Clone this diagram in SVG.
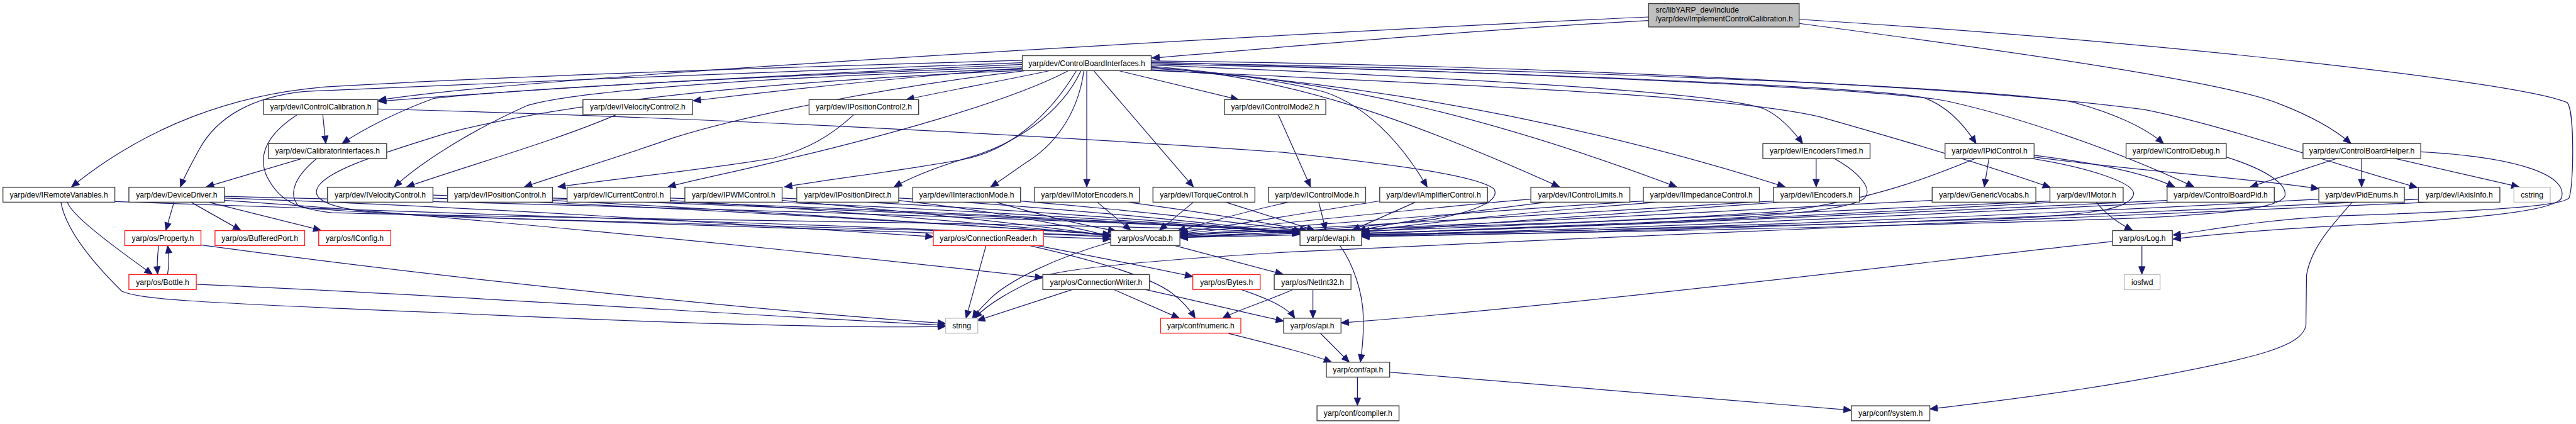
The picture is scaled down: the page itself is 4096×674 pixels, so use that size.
<svg xmlns="http://www.w3.org/2000/svg" width="4096" height="674" viewBox="0 0 4096 674">
<style>
.n rect{fill:#fff;stroke:#404040;stroke-width:1.5}
.r rect{stroke:#ff2020}
.g rect{stroke:#bfbfbf}
.t rect{fill:#bfbfbf}
text{font-family:"Liberation Sans",Arial,Helvetica,sans-serif;font-size:13.1px;text-anchor:middle;fill:#000}
.t text{text-anchor:start}
#edges path{fill:none;stroke:#191970;stroke-width:1.3;marker-end:url(#a)}
</style>
<defs>
<marker id="a" markerUnits="userSpaceOnUse" markerWidth="14" markerHeight="12" refX="13" refY="5.5" orient="auto" overflow="visible">
<path d="M0,0 L13,5.5 L0,11 z" fill="#191970" stroke="#191970" stroke-width="1"/>
</marker>
</defs>
<rect width="4096" height="674" fill="#fff"/>
<g transform="scale(0.93155)">
<g id="edges">
<path d="M2814,35 C2500,52 2200,80 1966,99"/>
<path d="M2814,29 C2300,52 1500,98 1100,128 C900,143 750,155 646,171"/>
<path d="M3071,40 C3450,90 3800,140 3890,177 C3950,200 3990,225 4013,245"/>
<path d="M3071,33 C3700,72 4300,140 4382,175 C4395,190 4393,320 4385,338 C4370,352 4250,360 4000,368 C3850,375 3760,395 3709,401"/>
<path d="M1745,103 C1400,113 900,128 560,148 C400,160 250,215 122,319"/>
<path d="M1745,107 C1400,120 900,138 520,156 C430,165 370,200 340,255 C325,283 315,300 308,319"/>
<path d="M1745,110 C1400,125 1000,145 646,173"/>
<path d="M1745,114 C1300,130 900,150 740,168 C680,190 620,220 584,245"/>
<path d="M1745,116 C1500,135 1300,158 1183,172"/>
<path d="M1745,118 C1400,128 1000,150 900,180 C810,220 720,275 673,319"/>
<path d="M1746,120 C1400,135 1000,165 760,228 C650,262 540,295 540,328 C542,360 650,366 800,371 C1300,385 1700,396 1896,402"/>
<path d="M1748,121 C1500,150 1260,200 1150,235 C1050,270 950,300 895,319"/>
<path d="M1790,121 C1700,140 1600,158 1547,170"/>
<path d="M1823,121 C1720,175 1500,235 1320,277 C1250,294 1180,308 1140,319"/>
<path d="M1837,121 C1790,200 1720,258 1644,272 C1550,290 1420,305 1339,319"/>
<path d="M1845,121 C1810,195 1730,248 1649,270 C1600,285 1560,300 1526,319"/>
<path d="M1850,121 C1842,180 1812,240 1752,277 C1730,292 1710,307 1691,319"/>
<path d="M1855,121 L1855,319"/>
<path d="M1867,121 L2037,319"/>
<path d="M1911,121 L2114,170"/>
<path d="M1965,113 C2100,125 2200,140 2261,157 C2330,180 2390,240 2436,319"/>
<path d="M1965,115 C2200,128 2420,210 2662,319"/>
<path d="M1965,117 C2300,132 2600,220 2862,319"/>
<path d="M1965,119 C2400,142 2800,240 3047,319"/>
<path d="M1965,111 C2500,133 2950,158 3014,187 C3040,200 3060,222 3077,245"/>
<path d="M1965,109 C2500,120 3200,148 3285,167 C3325,182 3352,212 3373,245"/>
<path d="M1965,107 C2600,118 3300,143 3533,173 C3600,190 3660,216 3693,245"/>
<path d="M1965,120 C2500,145 2950,162 3109,200 C3250,240 3400,285 3500,320"/>
<path d="M1965,104 C2700,112 3400,152 3660,187 C3800,215 3950,270 4126,320"/>
<path d="M1965,106 C2600,125 3200,150 3321,172 C3450,200 3620,260 3745,319"/>
<path d="M551,196 L556,245"/>
<path d="M645,186 C1200,200 1800,232 2190,260 C2400,283 2520,300 2550,322 C2562,342 2520,360 2450,374 C2300,392 2100,400 2014,406"/>
<path d="M507,196 C455,230 440,265 455,300 C475,340 500,355 566,363 C1000,375 1900,380 2219,398"/>
<path d="M514,271 L352,319"/>
<path d="M540,271 C505,300 490,330 510,352 C560,366 1100,380 1896,408"/>
<path d="M1051,196 C950,240 800,282 694,319"/>
<path d="M1457,196 C1420,230 1380,255 1320,270 C1200,290 1050,305 952,319"/>
<path d="M2182,196 L2237,319"/>
<path d="M3100,270 L3100,319"/>
<path d="M3130,270 C3175,295 3200,325 3180,340 C3150,360 3000,372 2800,380 C2600,388 2400,395 2324,399"/>
<path d="M3395,270 L3387,319"/>
<path d="M3373,270 C3300,300 3200,340 3050,360 C2700,385 2300,390 2014,399"/>
<path d="M3472,265 C3550,275 3650,290 3712,319"/>
<path d="M3472,268 C3650,292 3850,305 3958,322"/>
<path d="M3465,270 C3560,285 3640,310 3642,330 C3640,355 3580,365 3450,372 C3100,385 2600,395 2324,402"/>
<path d="M3800,268 C3870,290 3905,315 3900,335 C3890,355 3800,365 3650,372 C3300,385 2700,397 2324,404"/>
<path d="M3990,270 L3841,319"/>
<path d="M4031,270 L4031,319"/>
<path d="M4086,270 L4300,319"/>
<path d="M4132,259 C4300,268 4385,300 4372,338 C4360,362 4200,375 4000,385 C3850,393 3760,402 3709,408"/>
<path d="M115,345 C120,360 150,390 260,468"/>
<path d="M104,345 C110,380 140,430 208,497 C240,510 300,515 740,533 C1200,555 1500,560 1614,557"/>
<path d="M196,344 C600,360 1300,378 1896,404"/>
<path d="M297,345 L283,393"/>
<path d="M326,345 L411,393"/>
<path d="M356,345 L548,393"/>
<path d="M383,338 C800,352 1300,385 1593,404"/>
<path d="M383,342 C700,362 1300,420 1780,474"/>
<path d="M383,335 C1000,350 1800,372 2219,395"/>
<path d="M739,338 C1200,355 1650,385 1896,400"/>
<path d="M739,333 C1300,350 1900,378 2219,396"/>
<path d="M943,342 C1300,360 1700,388 1896,401"/>
<path d="M943,338 C1400,352 1950,378 2219,397"/>
<path d="M1144,342 C1450,360 1750,388 1896,402"/>
<path d="M1144,338 C1550,352 2000,380 2219,398"/>
<path d="M1335,342 C1550,360 1800,388 1896,403"/>
<path d="M1335,338 C1650,352 2050,380 2219,399"/>
<path d="M1534,342 C1700,360 1850,390 1896,404"/>
<path d="M1534,338 C1750,350 2080,380 2219,400"/>
<path d="M1700,345 C1770,365 1850,385 1905,394"/>
<path d="M1742,343 C1950,360 2130,382 2222,394"/>
<path d="M1873,345 L1930,393"/>
<path d="M1925,345 C2050,362 2160,380 2232,394"/>
<path d="M2037,345 L1979,393"/>
<path d="M2092,345 L2244,393"/>
<path d="M2200,345 C2120,362 2060,380 2010,394"/>
<path d="M2251,345 L2263,393"/>
<path d="M2355,343 C2250,360 2100,385 2014,397"/>
<path d="M2416,345 L2308,393"/>
<path d="M2613,340 C2400,358 2150,385 2014,399"/>
<path d="M2640,345 C2500,362 2380,380 2318,394"/>
<path d="M2805,343 C2500,362 2200,388 2014,401"/>
<path d="M2830,345 C2600,362 2420,382 2324,395"/>
<path d="M3027,343 C2700,362 2300,388 2014,402"/>
<path d="M3040,345 C2750,365 2450,385 2324,396"/>
<path d="M3298,342 C2900,362 2400,390 2014,403"/>
<path d="M3499,343 C3000,365 2500,392 2014,404"/>
<path d="M3510,345 C3100,368 2600,392 2324,398"/>
<path d="M3578,345 C3590,360 3610,378 3640,393"/>
<path d="M3699,342 C3200,365 2600,395 2014,405"/>
<path d="M3710,345 C3250,368 2700,395 2324,400"/>
<path d="M4015,345 C3985,380 3945,420 3937,470 L3936,555 C3930,590 3860,610 3650,648 C3500,675 3360,690 3294,698"/>
<path d="M3958,340 C3500,365 2800,395 2324,401"/>
<path d="M4150,345 C3700,370 2900,395 2200,430 C1950,445 1800,460 1770,475 C1730,495 1690,515 1663,543"/>
<path d="M4128,340 C3600,366 2900,395 2324,403"/>
<path d="M271,419 C268,440 268,455 269,468"/>
<path d="M286,468 C289,452 289,437 286,419"/>
<path d="M343,418 C800,480 1300,530 1614,552"/>
<path d="M335,485 C800,505 1300,540 1614,555"/>
<path d="M1683,419 L1649,543"/>
<path d="M1757,419 C1850,440 1960,470 2000,500 C2020,515 2032,530 2040,543"/>
<path d="M1770,419 C1880,440 1970,458 2036,472"/>
<path d="M1896,413 C1800,440 1720,480 1690,510 C1675,525 1665,535 1660,543"/>
<path d="M2005,419 L2190,468"/>
<path d="M2287,419 C2310,450 2326,500 2327,540 C2328,580 2324,605 2322,618"/>
<path d="M3656,419 L3656,468"/>
<path d="M3606,412 C3300,445 2700,520 2289,551"/>
<path d="M1831,494 L1668,547"/>
<path d="M1901,494 L2013,543"/>
<path d="M1954,494 C2050,515 2130,535 2191,548"/>
<path d="M2118,494 C2165,510 2198,525 2210,543"/>
<path d="M2207,494 C2160,515 2110,530 2087,543"/>
<path d="M2241,494 L2241,543"/>
<path d="M2097,569 C2180,590 2240,605 2273,618"/>
<path d="M2254,569 L2303,618"/>
<path d="M2317,643 L2317,692"/>
<path d="M2372,635 C2700,660 3000,685 3160,700"/>
</g>
<g id="n_top" class="n t"><rect x="2814" y="6" width="257" height="40"/><text x="2826" y="21">src/libYARP_dev/include</text><text x="2826" y="37">/yarp/dev/ImplementControlCalibration.h</text></g>
<g id="n_cbi" class="n"><rect x="1745" y="95" width="220" height="25.5"/><text x="1855" y="112.3">yarp/dev/ControlBoardInterfaces.h</text></g>
<g id="n_icc" class="n"><rect x="450" y="170" width="195" height="25.5"/><text x="547.5" y="187.3">yarp/dev/IControlCalibration.h</text></g>
<g id="n_ivc2" class="n"><rect x="995" y="170" width="187" height="25.5"/><text x="1088.5" y="187.3">yarp/dev/IVelocityControl2.h</text></g>
<g id="n_ipc2" class="n"><rect x="1381" y="170" width="187" height="25.5"/><text x="1474.5" y="187.3">yarp/dev/IPositionControl2.h</text></g>
<g id="n_icm2" class="n"><rect x="2090" y="170" width="173" height="25.5"/><text x="2176.5" y="187.3">yarp/dev/IControlMode2.h</text></g>
<g id="n_cali" class="n"><rect x="458" y="245" width="202" height="25.5"/><text x="559" y="262.3">yarp/dev/CalibratorInterfaces.h</text></g>
<g id="n_iet" class="n"><rect x="3009" y="245" width="183" height="25.5"/><text x="3100.5" y="262.3">yarp/dev/IEncodersTimed.h</text></g>
<g id="n_ipid" class="n"><rect x="3320" y="245" width="152" height="25.5"/><text x="3396" y="262.3">yarp/dev/IPidControl.h</text></g>
<g id="n_icd" class="n"><rect x="3629" y="245" width="171" height="25.5"/><text x="3714.5" y="262.3">yarp/dev/IControlDebug.h</text></g>
<g id="n_cbh" class="n"><rect x="3931" y="245" width="201" height="25.5"/><text x="4031.5" y="262.3">yarp/dev/ControlBoardHelper.h</text></g>
<g id="n_irv" class="n"><rect x="5" y="319.5" width="191" height="25.5"/><text x="100.5" y="336.8">yarp/dev/IRemoteVariables.h</text></g>
<g id="n_dd" class="n"><rect x="220" y="319.5" width="163" height="25.5"/><text x="301.5" y="336.8">yarp/dev/DeviceDriver.h</text></g>
<g id="n_ivc" class="n"><rect x="559" y="319.5" width="180" height="25.5"/><text x="649" y="336.8">yarp/dev/IVelocityControl.h</text></g>
<g id="n_ipc" class="n"><rect x="764" y="319.5" width="179" height="25.5"/><text x="853.5" y="336.8">yarp/dev/IPositionControl.h</text></g>
<g id="n_icur" class="n"><rect x="968" y="319.5" width="176" height="25.5"/><text x="1056" y="336.8">yarp/dev/ICurrentControl.h</text></g>
<g id="n_ipwm" class="n"><rect x="1169" y="319.5" width="166" height="25.5"/><text x="1252" y="336.8">yarp/dev/IPWMControl.h</text></g>
<g id="n_ipd" class="n"><rect x="1360" y="319.5" width="174" height="25.5"/><text x="1447" y="336.8">yarp/dev/IPositionDirect.h</text></g>
<g id="n_iim" class="n"><rect x="1558" y="319.5" width="184" height="25.5"/><text x="1650" y="336.8">yarp/dev/IInteractionMode.h</text></g>
<g id="n_ime" class="n"><rect x="1766" y="319.5" width="179" height="25.5"/><text x="1855.5" y="336.8">yarp/dev/IMotorEncoders.h</text></g>
<g id="n_itc" class="n"><rect x="1968" y="319.5" width="174" height="25.5"/><text x="2055" y="336.8">yarp/dev/ITorqueControl.h</text></g>
<g id="n_icm" class="n"><rect x="2165" y="319.5" width="166" height="25.5"/><text x="2248" y="336.8">yarp/dev/IControlMode.h</text></g>
<g id="n_iac" class="n"><rect x="2355" y="319.5" width="184" height="25.5"/><text x="2447" y="336.8">yarp/dev/IAmplifierControl.h</text></g>
<g id="n_icl" class="n"><rect x="2613" y="319.5" width="169" height="25.5"/><text x="2697.5" y="336.8">yarp/dev/IControlLimits.h</text></g>
<g id="n_iic" class="n"><rect x="2805" y="319.5" width="198" height="25.5"/><text x="2904" y="336.8">yarp/dev/IImpedanceControl.h</text></g>
<g id="n_ienc" class="n"><rect x="3027" y="319.5" width="147" height="25.5"/><text x="3100.5" y="336.8">yarp/dev/IEncoders.h</text></g>
<g id="n_gv" class="n"><rect x="3298" y="319.5" width="177" height="25.5"/><text x="3386.5" y="336.8">yarp/dev/GenericVocabs.h</text></g>
<g id="n_imot" class="n"><rect x="3499" y="319.5" width="125" height="25.5"/><text x="3561.5" y="336.8">yarp/dev/IMotor.h</text></g>
<g id="n_cbp" class="n"><rect x="3699" y="319.5" width="183" height="25.5"/><text x="3790.5" y="336.8">yarp/dev/ControlBoardPid.h</text></g>
<g id="n_pe" class="n"><rect x="3958" y="319.5" width="146" height="25.5"/><text x="4031" y="336.8">yarp/dev/PidEnums.h</text></g>
<g id="n_iai" class="n"><rect x="4128" y="319.5" width="139" height="25.5"/><text x="4197.5" y="336.8">yarp/dev/IAxisInfo.h</text></g>
<g id="n_cstring" class="n g"><rect x="4291" y="319.5" width="62" height="25.5"/><text x="4322" y="336.8">cstring</text></g>
<g id="n_prop" class="n r"><rect x="213" y="393.5" width="130" height="25.5"/><text x="278" y="410.8">yarp/os/Property.h</text></g>
<g id="n_bport" class="n r"><rect x="367" y="393.5" width="153" height="25.5"/><text x="443.5" y="410.8">yarp/os/BufferedPort.h</text></g>
<g id="n_iconf" class="n r"><rect x="544" y="393.5" width="123" height="25.5"/><text x="605.5" y="410.8">yarp/os/IConfig.h</text></g>
<g id="n_creader" class="n r"><rect x="1593" y="393.5" width="188" height="25.5"/><text x="1687" y="410.8">yarp/os/ConnectionReader.h</text></g>
<g id="n_vocab" class="n"><rect x="1896" y="393.5" width="118" height="25.5"/><text x="1955" y="410.8">yarp/os/Vocab.h</text></g>
<g id="n_devapi" class="n"><rect x="2219" y="393.5" width="105" height="25.5"/><text x="2271.5" y="410.8">yarp/dev/api.h</text></g>
<g id="n_log" class="n"><rect x="3606" y="393.5" width="102" height="25.5"/><text x="3657" y="410.8">yarp/os/Log.h</text></g>
<g id="n_bottle" class="n r"><rect x="220" y="468.5" width="115" height="25.5"/><text x="277.5" y="485.8">yarp/os/Bottle.h</text></g>
<g id="n_cwriter" class="n"><rect x="1780" y="468.5" width="182" height="25.5"/><text x="1871" y="485.8">yarp/os/ConnectionWriter.h</text></g>
<g id="n_bytes" class="n r"><rect x="2036" y="468.5" width="115" height="25.5"/><text x="2093.5" y="485.8">yarp/os/Bytes.h</text></g>
<g id="n_netint" class="n"><rect x="2175" y="468.5" width="131" height="25.5"/><text x="2240.5" y="485.8">yarp/os/NetInt32.h</text></g>
<g id="n_iosfwd" class="n g"><rect x="3626" y="468.5" width="61" height="25.5"/><text x="3656.5" y="485.8">iosfwd</text></g>
<g id="n_string" class="n g"><rect x="1614" y="543" width="55" height="25.5"/><text x="1641.5" y="560.3">string</text></g>
<g id="n_numeric" class="n r"><rect x="1981" y="543" width="137" height="25.5"/><text x="2049.5" y="560.3">yarp/conf/numeric.h</text></g>
<g id="n_osapi" class="n"><rect x="2191" y="543" width="98" height="25.5"/><text x="2240" y="560.3">yarp/os/api.h</text></g>
<g id="n_confapi" class="n"><rect x="2264" y="618" width="108" height="25.5"/><text x="2318" y="635.3">yarp/conf/api.h</text></g>
<g id="n_compiler" class="n"><rect x="2248" y="692.5" width="140" height="25.5"/><text x="2318" y="709.8">yarp/conf/compiler.h</text></g>
<g id="n_system" class="n"><rect x="3160" y="692.5" width="134" height="25.5"/><text x="3227" y="709.8">yarp/conf/system.h</text></g>
</g>
</svg>
